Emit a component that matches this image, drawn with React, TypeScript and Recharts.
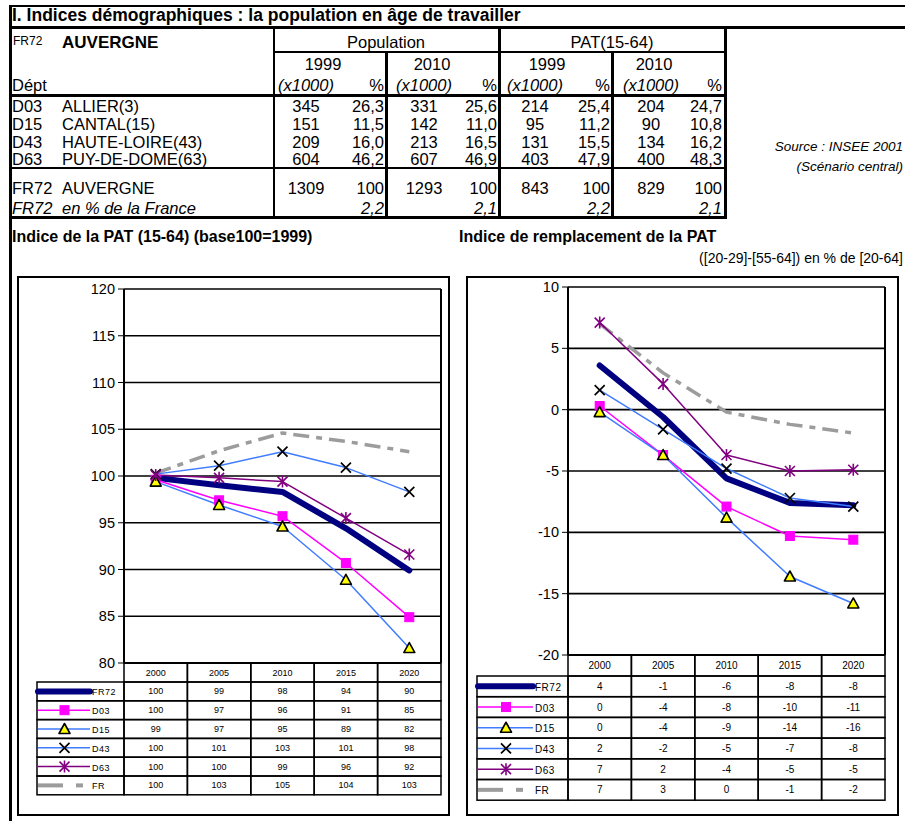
import React from 'react'
import { LineChart, Line, XAxis, YAxis, CartesianGrid } from 'recharts'

const FONT = '"Liberation Sans", Arial, Helvetica, sans-serif'

// ---- summary table ----
const deptCodes = ['D03', 'D15', 'D43', 'D63']
const deptNames = ['ALLIER(3)', 'CANTAL(15)', 'HAUTE-LOIRE(43)', 'PUY-DE-DOME(63)']
const pop1999 = ['345', '151', '209', '604']
const pop1999Pct = ['26,3', '11,5', '16,0', '46,2']
const pop2010 = ['331', '142', '213', '607']
const pop2010Pct = ['25,6', '11,0', '16,5', '46,9']
const pat1999 = ['214', '95', '131', '403']
const pat1999Pct = ['25,4', '11,2', '15,5', '47,9']
const pat2010 = ['204', '90', '134', '400']
const pat2010Pct = ['24,7', '10,8', '16,2', '48,3']
const regionTotals = ['1309', '100', '1293', '100', '843', '100', '829', '100']
const franceShare = ['2,2', '2,1', '2,2', '2,1']

// ---- charts ----
const years = ['2000', '2005', '2010', '2015', '2020']
const seriesNames = ['FR72', 'D03', 'D15', 'D43', 'D63', 'FR']

// Indice de la PAT (15-64), base 100 = 1999
const patFR72 = [99.8, 99.0, 98.3, 94.4, 89.9]
const patD03 = [99.6, 97.4, 95.7, 90.7, 84.9]
const patD15 = [99.4, 96.9, 94.6, 88.9, 81.6]
const patD43 = [100.2, 101.1, 102.6, 100.9, 98.3]
const patD63 = [100.1, 99.8, 99.4, 95.5, 91.6]
const patFR = [100.3, 102.7, 104.6, 103.7, 102.6]

// Indice de remplacement de la PAT
const rempFR72 = [3.6, -0.6, -5.6, -7.6, -7.8]
const rempD03 = [0.3, -3.7, -7.9, -10.3, -10.6]
const rempD15 = [-0.2, -3.7, -8.8, -13.6, -15.8]
const rempD43 = [1.6, -1.6, -4.8, -7.2, -7.9]
const rempD63 = [7.1, 2.1, -3.7, -5.0, -4.9]
const rempFR = [7.0, 3.0, -0.2, -1.2, -1.9]

const patTicks = [80, 85, 90, 95, 100, 105, 110, 115, 120]
const rempTicks = [-20, -15, -10, -5, 0, 5, 10]

const BLUE = '#3F7CFF'
const seriesStyle: Record<string, any> = {
  FR72: { color: '#000080', width: 6, marker: 'none' },
  D03: { color: '#FF00FF', width: 1.5, marker: 'square' },
  D15: { color: BLUE, width: 1.5, marker: 'triangle' },
  D43: { color: BLUE, width: 1.5, marker: 'x' },
  D63: { color: '#800080', width: 1.5, marker: 'star' },
  FR: { color: '#9C9C9C', width: 3.5, marker: 'none', dash: '16 7 6 7' },
}
const drawOrder = ['FR', 'FR72', 'D03', 'D15', 'D43', 'D63']

function marker(kind: string, cx: number, cy: number, color: string, key?: any) {
  if (cx == null || cy == null) return <g key={key} />
  switch (kind) {
    case 'square':
      return <rect key={key} x={cx - 4.5} y={cy - 4.5} width={9} height={9} fill={color} stroke={color} />
    case 'triangle':
      return (
        <path key={key} d={`M${cx},${cy - 5.5}L${cx + 5.5},${cy + 4.5}L${cx - 5.5},${cy + 4.5}Z`}
          fill="#FFFF00" stroke="#000" strokeWidth={1.6} strokeLinejoin="round" />
      )
    case 'x':
      return (
        <path key={key} d={`M${cx - 5},${cy - 5}L${cx + 5},${cy + 5}M${cx - 5},${cy + 5}L${cx + 5},${cy - 5}`}
          stroke="#000" strokeWidth={1.7} fill="none" />
      )
    case 'star':
      return (
        <path key={key} d={`M${cx - 5},${cy - 5}L${cx + 5},${cy + 5}M${cx - 5},${cy + 5}L${cx + 5},${cy - 5}M${cx},${cy - 6}L${cx},${cy + 6}`}
          stroke={color} strokeWidth={1.6} fill="none" />
      )
    default:
      return <g key={key} />
  }
}

const fmt = (v: number) => String(Math.round(v) === 0 ? 0 : Math.round(v))

function IndexChart({ cfg, values }: { cfg: any; values: Record<string, number[]> }) {
  const data = years.map((y, i) => {
    const row: any = { year: y }
    seriesNames.forEach((s) => (row[s] = values[s][i]))
    return row
  })
  const bw = cfg.plotW / years.length
  const xAxisH = cfg.height - cfg.plotTop - cfg.plotH
  const rightW = cfg.width - cfg.plotLeft - cfg.plotW

  const TableTick = (props: any) => {
    const { x, y, payload, index } = props
    const i = typeof index === 'number' ? index : payload.index
    const half = bw / 2
    const cells = seriesNames.map((s, r) => {
      const top = y + cfg.headerH + r * cfg.rowH
      return (
        <g key={s}>
          <rect x={x - half} y={top} width={bw} height={cfg.rowH} fill="none" stroke="#000" strokeWidth={1.5} />
          <text x={x} y={top + cfg.rowH / 2} textAnchor="middle" dominantBaseline="central"
            fontSize={cfg.fontSize} fill="#000" fontFamily={FONT}>{fmt(values[s][i])}</text>
        </g>
      )
    })
    let legend = null
    if (i === 0) {
      const lx = x - half - cfg.legendW
      legend = seriesNames.map((s, r) => {
        const top = y + cfg.headerH + r * cfg.rowH
        const cy = top + cfg.rowH / 2
        const st = seriesStyle[s]
        const x2 = lx + cfg.sampleLen
        let sample
        if (s === 'FR') {
          sample = (
            <g>
              <line x1={lx + 1} x2={lx + 26} y1={cy} y2={cy} stroke={st.color} strokeWidth={4} />
              <line x1={lx + 39} x2={lx + 46} y1={cy} y2={cy} stroke={st.color} strokeWidth={4} />
            </g>
          )
        } else {
          sample = (
            <g>
              <line x1={lx + 1} x2={x2} y1={cy} y2={cy} stroke={st.color} strokeWidth={st.width}
                strokeLinecap={s === 'FR72' ? 'round' : 'butt'} />
              {marker(st.marker, lx + cfg.sampleLen / 2 + 1, cy, st.color)}
            </g>
          )
        }
        return (
          <g key={'l' + s}>
            <rect x={lx} y={top} width={cfg.legendW} height={cfg.rowH} fill="none" stroke="#000" strokeWidth={1.5} />
            {sample}
            <text x={x2 + 2} y={cy + 1} dominantBaseline="central" fontSize={cfg.fontSize} fill="#000"
              fontFamily={FONT} letterSpacing={0.5}>{s}</text>
          </g>
        )
      })
    }
    return (
      <g>
        <rect x={x - half} y={y} width={bw} height={cfg.headerH} fill="none" stroke="#000" strokeWidth={1.5} />
        <text x={x} y={y + cfg.headerH / 2} textAnchor="middle" dominantBaseline="central"
          fontSize={cfg.fontSize} fill="#000" fontFamily={FONT}>{payload.value}</text>
        {cells}
        {legend}
      </g>
    )
  }

  return (
    <div style={{ position: 'absolute', left: cfg.left, top: cfg.top }}>
      <LineChart width={cfg.width} height={cfg.height} data={data}
        margin={{ top: cfg.plotTop, right: 0, bottom: 0, left: 0 }}>
        <CartesianGrid vertical={false} stroke="#000" strokeWidth={1.6} />
        <XAxis dataKey="year" interval={0} padding={{ left: bw / 2, right: bw / 2 }} height={xAxisH}
          tickLine={false} tickSize={0} tickMargin={0} axisLine={{ stroke: '#000', strokeWidth: 2 }}
          tick={<TableTick />} />
        <YAxis type="number" domain={cfg.domain} ticks={cfg.ticks} interval={0} width={cfg.plotLeft}
          tickSize={6} tickMargin={3} axisLine={{ stroke: '#000', strokeWidth: 2 }}
          tickLine={{ stroke: '#000' }} tick={{ fill: '#000', fontSize: 14.5, fontFamily: FONT }} />
        <YAxis yAxisId="r" orientation="right" type="number" domain={cfg.domain} ticks={cfg.ticks}
          width={rightW} tick={false} tickLine={false} axisLine={{ stroke: '#000', strokeWidth: 2 }} />
        {drawOrder.map((s) => {
          const st = seriesStyle[s]
          return (
            <Line key={s} dataKey={s} stroke={st.color} strokeWidth={st.width}
              strokeDasharray={st.dash} strokeLinecap={s === 'FR72' ? 'round' : 'butt'} strokeLinejoin="round"
              isAnimationActive={false} activeDot={false}
              dot={st.marker === 'none' ? false : (p: any) => marker(st.marker, p.cx, p.cy, st.color, p.index)} />
          )
        })}
      </LineChart>
    </div>
  )
}

const leftCfg = {
  left: 17, top: 276, width: 433, height: 540, plotLeft: 107, plotTop: 13, plotW: 317, plotH: 374,
  domain: [80, 120], ticks: patTicks, headerH: 19, rowH: 18.8, legendW: 87, sampleLen: 53, fontSize: 9,
}
const rightCfg = {
  left: 466, top: 276, width: 433, height: 540, plotLeft: 102, plotTop: 11, plotW: 317, plotH: 368,
  domain: [-20, 10], ticks: rempTicks, headerH: 21, rowH: 20.7, legendW: 91, sampleLen: 56, fontSize: 10,
}

function T({ x, y, children, align = 'left', style }: any) {
  const tx = align === 'center' ? '-50%' : align === 'right' ? '-100%' : '0'
  return (
    <div style={{
      position: 'absolute', left: x, top: y, transform: `translate(${tx}, -50%)`,
      whiteSpace: 'nowrap', lineHeight: 1, fontSize: 16.5, color: '#000', ...style,
    }}>{children}</div>
  )
}
const HL = ({ x1, x2, y, w = 2 }: any) => (
  <div style={{ position: 'absolute', left: x1, top: y - w / 2, width: x2 - x1, height: w, background: '#000' }} />
)
const VL = ({ x, y1, y2, w = 2 }: any) => (
  <div style={{ position: 'absolute', left: x - w / 2, top: y1, width: w, height: y2 - y1, background: '#000' }} />
)

const rowY = [106, 124, 142, 159]
const colCenters = [306, 424, 535, 651]
const pctRights = [384, 497, 610, 722]

export default function App() {
  const cols = [
    [pop1999, pop1999Pct], [pop2010, pop2010Pct], [pat1999, pat1999Pct], [pat2010, pat2010Pct],
  ]
  return (
    <div style={{ position: 'absolute', left: 0, top: 0, width: 905, height: 821, background: '#fff', overflow: 'hidden', fontFamily: FONT }}>
      {/* frame lines */}
      <VL x={10.5} y1={5} y2={821} w={3} />
      <HL x1={9} x2={905} y={6} w={2} />
      <HL x1={9} x2={905} y={27} w={3} />
      <T x={12} y={16} style={{ fontWeight: 'bold', fontSize: 17.5 }}>
        I. Indices démographiques : la population en âge de travailler
      </T>

      {/* table grid */}
      <VL x={273.5} y1={27} y2={218} w={2} />
      <VL x={499} y1={27} y2={218} w={3} />
      <VL x={725} y1={27} y2={218} w={3} />
      <HL x1={273} x2={727} y={52} w={2.5} />
      <VL x={386.5} y1={52} y2={218} w={2.5} />
      <VL x={612.5} y1={52} y2={218} w={2.5} />
      <HL x1={9} x2={727} y={95} w={3} />
      <HL x1={9} x2={727} y={168} w={2} />
      <HL x1={9} x2={727} y={217} w={3} />

      <T x={13} y={41} style={{ fontSize: 12 }}>FR72</T>
      <T x={62} y={42} style={{ fontWeight: 'bold', fontSize: 17 }}>AUVERGNE</T>
      <T x={386} y={42} align="center">Population</T>
      <T x={612} y={42} align="center">PAT(15-64)</T>
      <T x={323} y={64} align="center">1999</T>
      <T x={432} y={64} align="center">2010</T>
      <T x={547} y={64} align="center">1999</T>
      <T x={654} y={64} align="center">2010</T>
      <T x={12} y={85}>Dépt</T>
      {colCenters.map((c, k) => (
        <React.Fragment key={'h' + k}>
          <T x={c} y={85} align="center" style={{ fontStyle: 'italic' }}>(x1000)</T>
          <T x={pctRights[k]} y={85} align="right">%</T>
        </React.Fragment>
      ))}
      {deptCodes.map((d, r) => (
        <React.Fragment key={d}>
          <T x={12} y={rowY[r]}>{d}</T>
          <T x={62} y={rowY[r]}>{deptNames[r]}</T>
          {cols.map((c, k) => (
            <React.Fragment key={k}>
              <T x={colCenters[k]} y={rowY[r]} align="center">{c[0][r]}</T>
              <T x={pctRights[k]} y={rowY[r]} align="right">{c[1][r]}</T>
            </React.Fragment>
          ))}
        </React.Fragment>
      ))}
      <T x={12} y={188}>FR72</T>
      <T x={62} y={188}>AUVERGNE</T>
      {colCenters.map((c, k) => (
        <React.Fragment key={'t' + k}>
          <T x={c} y={188} align="center">{regionTotals[k * 2]}</T>
          <T x={pctRights[k]} y={188} align="right">{regionTotals[k * 2 + 1]}</T>
          <T x={pctRights[k]} y={208} align="right" style={{ fontStyle: 'italic' }}>{franceShare[k]}</T>
        </React.Fragment>
      ))}
      <T x={12} y={208} style={{ fontStyle: 'italic' }}>FR72</T>
      <T x={62} y={208} style={{ fontStyle: 'italic' }}>en % de la France</T>

      <T x={903} y={147} align="right" style={{ fontStyle: 'italic', fontSize: 13.5 }}>Source : INSEE 2001</T>
      <T x={903} y={167} align="right" style={{ fontStyle: 'italic', fontSize: 13.5 }}>(Scénario central)</T>

      {/* chart titles */}
      <T x={12} y={237} style={{ fontWeight: 'bold', fontSize: 16 }}>Indice de la PAT (15-64) (base100=1999)</T>
      <T x={459} y={237} style={{ fontWeight: 'bold', fontSize: 16 }}>Indice de remplacement de la PAT</T>
      <T x={903} y={258} align="right" style={{ fontSize: 14 }}>([20-29]-[55-64]) en % de [20-64]</T>

      {/* chart boxes */}
      <div style={{ position: 'absolute', left: 17, top: 276, width: 433, height: 540, border: '2px solid #000', boxSizing: 'border-box' }} />
      <div style={{ position: 'absolute', left: 466, top: 276, width: 433, height: 540, border: '2px solid #000', boxSizing: 'border-box' }} />

      <IndexChart cfg={leftCfg}
        values={{ FR72: patFR72, D03: patD03, D15: patD15, D43: patD43, D63: patD63, FR: patFR }} />
      <IndexChart cfg={rightCfg}
        values={{ FR72: rempFR72, D03: rempD03, D15: rempD15, D43: rempD43, D63: rempD63, FR: rempFR }} />
    </div>
  )
}
